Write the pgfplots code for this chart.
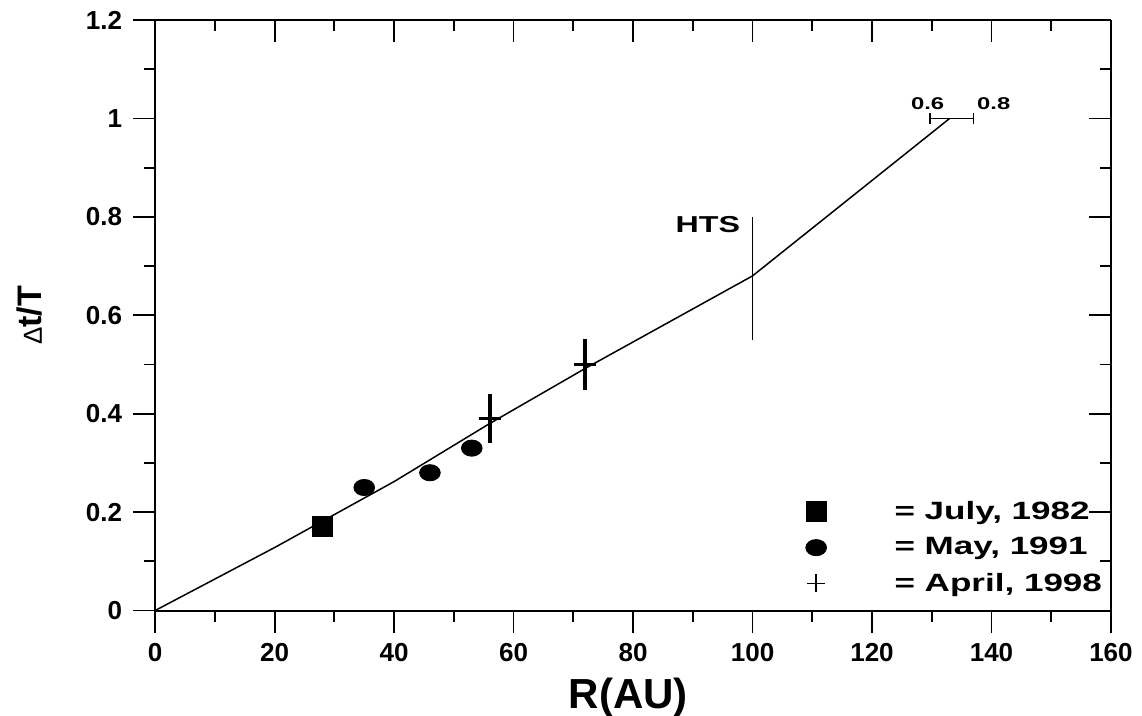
\documentclass[border=0pt]{standalone}
\usepackage{fontspec}
\setmainfont{Liberation Sans}
\newfontfamily\wide[FakeStretch=1.4]{Liberation Sans}
\usepackage{pgfplots}
\pgfplotsset{compat=1.18}

\begin{document}
\begin{tikzpicture}
\pgfplotsset{
  frame/.style={
    width=477.5pt, height=295pt, scale only axis,
    xmin=0, xmax=160, ymin=0, ymax=1.2,
    xtick={0,20,40,60,80,100,120,140,160},
    ytick={0,0.2,0.4,0.6,0.8,1,1.2},
    minor x tick num=1, minor y tick num=1,
    major tick length=11pt, minor tick length=5.5pt,
    axis line style={line width=1pt},
    tick style={black, line width=0.9pt},
  }
}
% top and right: ticks inside, no labels
\begin{axis}[frame,
  axis x line*=top, axis y line*=right,
  tick align=inside,
  xticklabels={}, yticklabels={},
]
\end{axis}

\begin{axis}[frame, name=main,
  axis x line*=bottom, axis y line*=left,
  tick align=outside,
  /pgf/number format/assume math mode=true,
  ticklabel style={font=\bfseries\fontsize{13}{15}\selectfont},
  xticklabel style={yshift=-2pt},
  yticklabel style={xshift=-2pt},
  xlabel={R(AU)},
  xlabel style={font=\bfseries\fontsize{21}{24}\selectfont,
    at={(axis description cs:0.495,-0.1475)}, anchor=center},
  ylabel={{\mdseries\fontsize{13}{14}\selectfont Δ}t/T},
  ylabel style={font=\bfseries\fontsize{17}{20}\selectfont,
    at={(axis description cs:-0.131,0.5)}, anchor=center},
  legend entries={{= July, 1982}, {= May, 1991}, {= April, 1998}},
  legend cell align=left,
  legend style={draw=none, fill=none, inner sep=0pt,
    at={(axis cs:108.85,0.231)}, anchor=north west,
    font=\wide\bfseries\fontsize{12.5}{14}\selectfont,
    column sep=32pt, row sep=3.5pt},
]
\addlegendimage{only marks, mark=square*, mark size=5pt}
\addlegendimage{only marks, mark=*, mark size=4.5pt, mark options={xscale=1.15, yscale=0.9}}
\addlegendimage{only marks, mark=+, mark size=4.5pt, mark options={line width=0.9pt}}

% model curve
\addplot[black, line width=0.75pt, forget plot] coordinates {
  (0,0) (20,0.128) (40,0.262) (56,0.38) (72,0.492) (100,0.68) (133,1.0)
};

% July 1982
\addplot[only marks, mark=square*, mark size=5pt, forget plot] coordinates {
  (28,0.17)
};

% May 1991
\addplot[only marks, mark=*, mark size=4.5pt,
  mark options={xscale=1.15, yscale=0.9}, forget plot] coordinates {
  (35,0.25) (46,0.28) (53,0.33)
};

% April 1998
\addplot[only marks, mark=+, mark size=5.5pt, mark options={line width=1.2pt},
  forget plot,
  error bars/.cd, y dir=both, y explicit,
  error bar style={line width=2pt}, error mark=none] coordinates {
  (56,0.39) +- (0,0.05)
  (72,0.50) +- (0,0.052)
};

% HTS
\addplot[black, line width=0.75pt, forget plot] coordinates {(100,0.55) (100,0.80)};
\node[anchor=east, font=\wide\bfseries\fontsize{11.5}{13}\selectfont]
  at (axis cs:99.1,0.785) {HTS};

% range bar at 1.0
\addplot[black, line width=0.75pt, mark=|, mark size=2.75pt, forget plot]
  coordinates {(129.7,1) (137,1)};
\node[anchor=south, inner sep=1pt, font=\wide\bfseries\fontsize{8.5}{10}\selectfont]
  at (axis cs:129.3,1.012) {0.6};
\node[anchor=south west, inner sep=1pt, font=\wide\bfseries\fontsize{8.5}{10}\selectfont]
  at (axis cs:137.2,1.012) {0.8};
\end{axis}

\pgfresetboundingbox
\path[use as bounding box] ([xshift=-77.5pt,yshift=-52.5pt]main.south west)
  rectangle ([xshift=15.5pt,yshift=10pt]main.north east);
\end{tikzpicture}
\end{document}
